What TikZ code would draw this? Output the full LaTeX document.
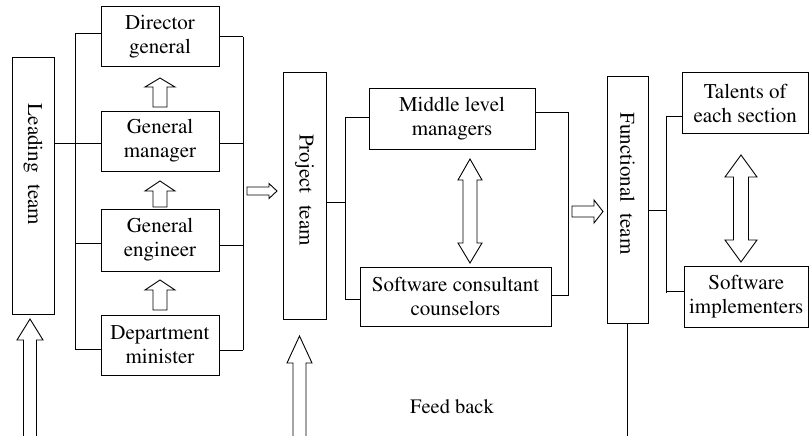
\documentclass[tikz,border=0pt]{standalone}
\usepackage[T1]{fontenc}
\usepackage{mathptmx}
\begin{document}
\begin{tikzpicture}[x=1pt,y=-1pt,
  box/.style={draw, line width=1pt, inner sep=0pt, align=center, font=\fontsize{21}{24}\selectfont},
  vtext/.style={rotate=-90, inner sep=0pt, font=\fontsize{21}{24}\selectfont},
  conn/.style={line width=1pt},
  blk/.style={draw, line width=0.9pt, fill=white, line join=miter}]
\useasboundingbox (0,0) rectangle (809,436);

% boxes
\node[box, minimum width=42pt, minimum height=256pt] (lead) at (33,186) {};
\node[vtext] (leadt) at (33,164.5) {Leading\hspace{0.55em}team};
\node[box, minimum width=118pt, minimum height=60pt] (dg) at (160,37) {Director\\general};
\node[box, minimum width=118pt, minimum height=60pt] (gm) at (160,141) {General\\manager};
\node[box, minimum width=118pt, minimum height=62pt] (ge) at (160,240) {General\\engineer};
\node[box, minimum width=118pt, minimum height=60pt] (dm) at (160,345) {Department\\minister};

\node[box, minimum width=43pt, minimum height=246pt] (proj) at (304.5,196) {};
\node[vtext] (projt) at (304.5,190) {Project\hspace{0.55em}team};
\node[box, minimum width=166pt, minimum height=60pt] (mlm) at (452,119) {Middle level\\managers};
\node[box, minimum width=191pt, minimum height=59pt] (scc) at (455.5,296.5) {Software consultant\\counselors};

\node[box, minimum width=41pt, minimum height=246pt] (func) at (627.5,200) {};
\node[vtext] (funct) at (627.5,183.5) {Functional\hspace{0.55em}team};
\node[box, minimum width=126.5pt, minimum height=60pt] (tal) at (745.25,103) {Talents of\\each section};
\node[box, minimum width=124.5pt, minimum height=61pt] (si) at (746.25,296.5) {Software\\implementers};

\node[inner sep=0pt, font=\fontsize{20.5}{24}\selectfont] (fb) at (452,407) {Feed back};

% bracket coordinates
\coordinate (lb) at (75,0);
\coordinate (rb) at (243,0);
\coordinate (pb) at (345,0);
\coordinate (mb) at (568,0);
\coordinate (fbk) at (666,0);

% left group
\draw[conn] (lb |- 0,34) -- (lb |- 0,349);
\draw[conn] (rb |- 0,37) -- (rb |- 0,350);
\draw[conn] (lead.east |- 0,143) -- (lb |- 0,143);
\draw[conn] ([yshift=3pt]dg.west) -- (lb |- 0,34);
\draw[conn] (dg.east) -- (rb |- dg.east);
\draw[conn] ([yshift=-2pt]gm.west) -- (lb |- 0,143);
\draw[conn] ([yshift=-2pt]gm.east) -- (rb |- 0,143);
\draw[conn] (ge.west |- 0,243) -- (lb |- 0,243);
\draw[conn] (ge.east |- 0,245) -- (rb |- 0,245);
\draw[conn] (dm.west |- 0,349) -- (lb |- 0,349);
\draw[conn] (dm.east |- 0,350) -- (rb |- 0,350);

% project group
\draw[conn] (proj.east |- 0,202) -- (pb |- 0,202);
\draw[conn] (pb |- 0,117) -- (pb |- 0,299);
\draw[conn] (mlm.west |- 0,117) -- (pb |- 0,117);
\draw[conn] (scc.west |- 0,299) -- (pb |- 0,299);
\draw[conn] (mlm.east |- 0,112) -- (mb |- 0,112) -- (mb |- 0,295) -- (scc.east |- 0,295);

% functional group
\draw[conn] (func.east |- 0,210) -- (fbk |- 0,210);
\draw[conn] (fbk |- 0,116) -- (fbk |- 0,293);
\draw[conn] (tal.west |- 0,116) -- (fbk |- 0,116);
\draw[conn] (si.west |- 0,291) -- (fbk |- 0,291);
\draw[conn] (func.south) -- (func.south |- 0,436);

% block up arrows in left column
\foreach \t/\b/\e in {78/87/107, 181/191/207, 280/290/310}{
  \draw[blk] (153,\e) -- (153,\b) -- (145,\b) -- (160,\t) -- (175,\b) -- (167,\b) -- (167,\e) -- cycle;
}

% right arrows
\draw[blk] (247,187) -- (269,187) -- (269,183.5) -- (277,191) -- (269,198.5) -- (269,195) -- (247,195) -- cycle;
\draw[blk] (572,206) -- (594,206) -- (594,200) -- (603,211.5) -- (594,223) -- (594,217) -- (572,217) -- cycle;

% double arrows
\draw[blk] (470,159) -- (482,180) -- (477,180) -- (477,243) -- (482,243) -- (470,263) -- (458,243) -- (463,243) -- (463,180) -- (458,180) -- cycle;
\draw[blk] (741,155) -- (757,177) -- (748.5,177) -- (748.5,240) -- (757,240) -- (741,262) -- (725,240) -- (733.5,240) -- (733.5,177) -- (725,177) -- cycle;

% feedback arrows
\draw[blk] (23.5,436) -- (23.5,340) -- (17,340) -- (30,319) -- (43,340) -- (36.5,340) -- (36.5,436);
\draw[blk] (293,436) -- (293,363) -- (287,363) -- (299.5,336) -- (312,363) -- (306,363) -- (306,436);
\end{tikzpicture}
\end{document}
